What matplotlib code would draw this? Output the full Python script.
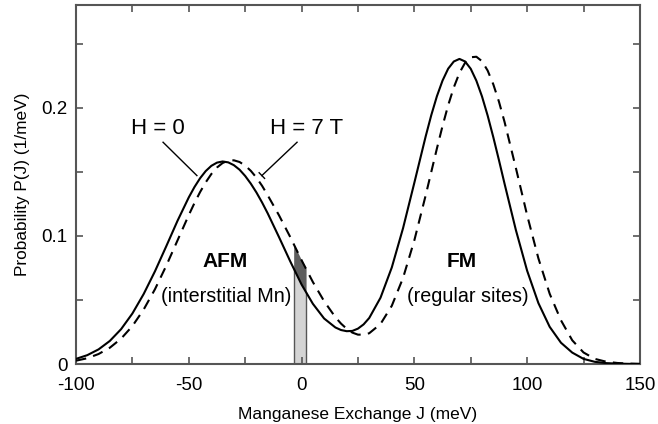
import numpy as np
import matplotlib.pyplot as plt
from matplotlib.ticker import MultipleLocator

plt.rcParams['font.family'] = ['Liberation Sans', 'DejaVu Sans']

# exchange energy grid (meV), denser around the peaks
J = [-100, -95, -90, -85, -80, -75, -70, -65, -60, -55, -50, -47.5, -45, -42.5, -40,
     -37.5, -35, -32.5, -30, -27.5, -25, -22.5, -20, -17.5, -15, -10, -5, 0, 5, 10, 15,
     17.5, 20, 22.5, 25, 27.5, 30, 35, 40, 45, 50, 55, 57.5, 60, 62.5, 65, 67.5, 70,
     72.5, 75, 77.5, 80, 82.5, 85, 87.5, 90, 95, 100, 105, 110, 115, 120, 125, 130,
     135, 140, 145, 150]

# probability P(J), H = 0 (solid)
p_h0 = [0.0040, 0.0069, 0.0114, 0.0180, 0.0272, 0.0394, 0.0546, 0.0723, 0.0918, 0.1117,
        0.1300, 0.1380, 0.1449, 0.1505, 0.1546, 0.1571, 0.1580, 0.1573, 0.1551, 0.1516,
        0.1467, 0.1407, 0.1338, 0.1260, 0.1175, 0.0990, 0.0800, 0.0620, 0.0470, 0.0355,
        0.0285, 0.0265, 0.0256, 0.0258, 0.0276, 0.0309, 0.0359, 0.0517, 0.0753, 0.1060,
        0.1414, 0.1774, 0.1941, 0.2089, 0.2211, 0.2304, 0.2360, 0.2380, 0.2360, 0.2303,
        0.2210, 0.2087, 0.1938, 0.1770, 0.1591, 0.1406, 0.1046, 0.0728, 0.0475, 0.0290,
        0.0166, 0.0089, 0.0040, 0.0017, 0.0007, 0.0003, 0.0001, 0.0000]

# probability P(J), H = 7 T (dashed)
p_h7 = [0.0026, 0.0045, 0.0078, 0.0127, 0.0198, 0.0296, 0.0425, 0.0583, 0.0766, 0.0964,
        0.1162, 0.1255, 0.1341, 0.1417, 0.1482, 0.1533, 0.1568, 0.1587, 0.1589, 0.1576,
        0.1548, 0.1507, 0.1454, 0.1390, 0.1316, 0.1160, 0.0990, 0.0810, 0.0640, 0.0490,
        0.0365, 0.0315, 0.0275, 0.0245, 0.0229, 0.0229, 0.0240, 0.0312, 0.0454, 0.0672,
        0.0965, 0.1314, 0.1498, 0.1681, 0.1857, 0.2019, 0.2158, 0.2271, 0.2350, 0.2393,
        0.2397, 0.2362, 0.2289, 0.2182, 0.2047, 0.1888, 0.1530, 0.1161, 0.0824, 0.0548,
        0.0341, 0.0185, 0.0090, 0.0040, 0.0018, 0.0008, 0.0003, 0.0001]

# shaded window around J = 0
shade_lo, shade_hi = -3.5, 2.0

x_ticks = [-100, -50, 0, 50, 100, 150]
x_labels = ['-100', '-50', '0', '50', '100', '150']
y_ticks = [0, 0.1, 0.2]
y_labels = ['0', '0.1', '0.2']

fig = plt.figure(figsize=(6.58, 4.24), dpi=100)
ax = fig.add_axes([0.1155, 0.1415, 0.857, 0.8465])

# shaded strip
xs = np.linspace(shade_lo, shade_hi, 30)
s0 = np.interp(xs, J, p_h0)
s7 = np.interp(xs, J, p_h7)
ax.fill_between(xs, 0, s0, color='#d4d4d4', lw=0, zorder=1)
ax.fill_between(xs, s0, s7, color='#5e5e5e', lw=0, zorder=1)
ax.vlines([shade_lo, shade_hi], 0, [s0[0], s0[-1]], color='#555555', lw=1.0, zorder=2)

ax.plot(J, p_h0, color='black', lw=1.5, zorder=3)
ax.plot(J, p_h7, color='black', lw=1.5, ls=(0, (5, 3.5)), zorder=3)

# labels
ax.text(-63.7, 0.184, 'H = 0', fontsize=16, ha='center', va='center')
ax.plot([-61.4, -46.4], [0.173, 0.147], color='black', lw=1)
ax.text(2.4, 0.184, 'H = 7 T', fontsize=16, ha='center', va='center')
ax.plot([-2.0, -17.6], [0.173, 0.147], color='black', lw=1)
# little end mark on the 7 T pointer
ax.plot([-18.8, -16.4], [0.1492, 0.1448], color='black', lw=1)

ax.text(-34, 0.080, 'AFM', fontsize=15, fontweight='bold', ha='center', va='center')
ax.text(-33.5, 0.053, '(interstitial Mn)', fontsize=14.2, ha='center', va='center')
ax.text(71, 0.080, 'FM', fontsize=15, fontweight='bold', ha='center', va='center')
ax.text(73.8, 0.053, '(regular sites)', fontsize=14.2, ha='center', va='center')

ax.set_xlim(-100, 150)
ax.set_ylim(0, 0.28)
ax.set_xticks(x_ticks)
ax.set_xticklabels(x_labels)
ax.set_yticks(y_ticks)
ax.set_yticklabels(y_labels)
ax.xaxis.set_minor_locator(MultipleLocator(25))
ax.yaxis.set_minor_locator(MultipleLocator(0.05))
ax.tick_params(which='both', direction='in', top=True, right=True,
               length=5, width=1.2, color='#555555', labelsize=13.5)
ax.tick_params(axis='x', pad=9)
ax.tick_params(axis='y', pad=6)

for sp in ax.spines.values():
    sp.set_color('#555555')
    sp.set_linewidth(1.5)

ax.set_xlabel('Manganese Exchange J (meV)', fontsize=12.5, labelpad=10)
ax.set_ylabel('Probability P(J) (1/meV)', fontsize=12.4, labelpad=8)

fig.savefig('out.png', dpi=100)
